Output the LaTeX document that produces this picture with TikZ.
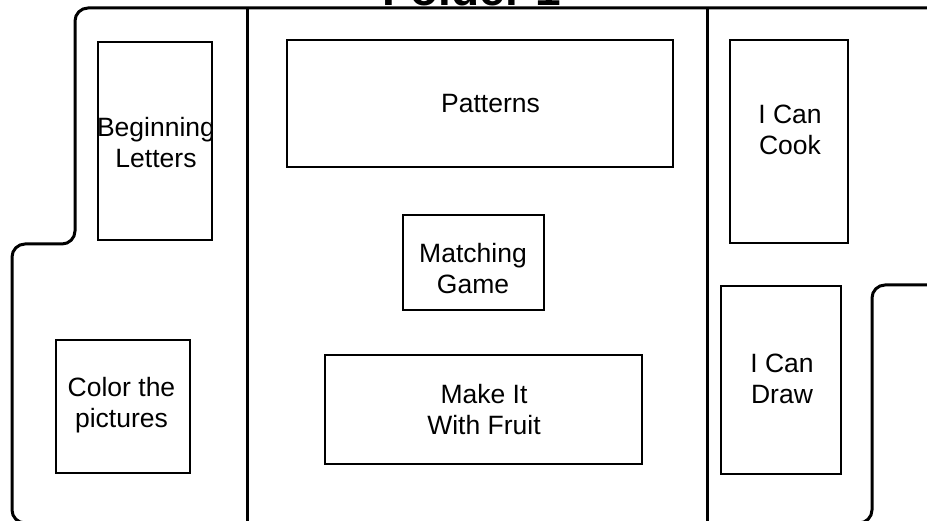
\documentclass[tikz,border=0pt]{standalone}
\usepackage{fontspec}
\setmainfont{Liberation Sans}
\begin{document}
\begin{tikzpicture}[x=1pt,y=-1pt,
  frame/.style={line width=3pt, rounded corners=13pt},
  divider/.style={line width=3pt},
  panel/.style={draw, line width=1.5pt, inner sep=0pt},
  lbl/.style={align=center, inner sep=0pt, font=\fontsize{26.5}{31}\selectfont},
]
\useasboundingbox (0,0) rectangle (927,521);
\clip (0,0) rectangle (927,521);

% title (mostly cut off at the top)
\node[font=\bfseries\fontsize{46}{50}\selectfont, anchor=base, inner sep=0pt] (title) at (472,6) {Folder 1};

% outer folder outline
\draw[frame] (940,8) -- (75,8) -- (75,244) -- (12,244) -- (12,523) -- (150,523);
\draw[frame] (940,285) -- (872,285) -- (872,523) -- (800,523);

% fold lines
\draw[divider] (247,8) -- (247,530);
\draw[divider] (707,8) -- (707,530);

% boxes
\node[panel, minimum width=114pt, minimum height=198pt] (bl) at (155,141) {};
\node[panel, minimum width=386pt, minimum height=127pt] (pat) at (480,103.5) {};
\node[panel, minimum width=141pt, minimum height=95pt] (match) at (473.5,262.5) {};
\node[panel, minimum width=317pt, minimum height=109pt] (fruit) at (483.5,409.5) {};
\node[panel, minimum width=134pt, minimum height=133pt] (color) at (123,406.5) {};
\node[panel, minimum width=118pt, minimum height=203pt] (cook) at (789,141.5) {};
\node[panel, minimum width=120pt, minimum height=188pt] (drawbox) at (781,380) {};

% texts
\node[lbl] (blt) at (156,146.3) {\strut Beginning\\Letters\strut};
\node[lbl] (patt) at (490.5,106.8) {\strut Patterns\strut};
\node[lbl] (cookt) at (790,132.8) {\strut I Can\\Cook\strut};
\node[lbl] (matcht) at (473,272.3) {\strut Matching\\Game\strut};
\node[lbl] (drawt) at (782,382) {\strut I Can\\Draw\strut};
\node[lbl] (fruitt) at (484,412.8) {\strut Make It\\With Fruit\strut};
\node[lbl] (colort) at (121.5,406.3) {\strut Color the\\pictures\strut};
\end{tikzpicture}
\end{document}
